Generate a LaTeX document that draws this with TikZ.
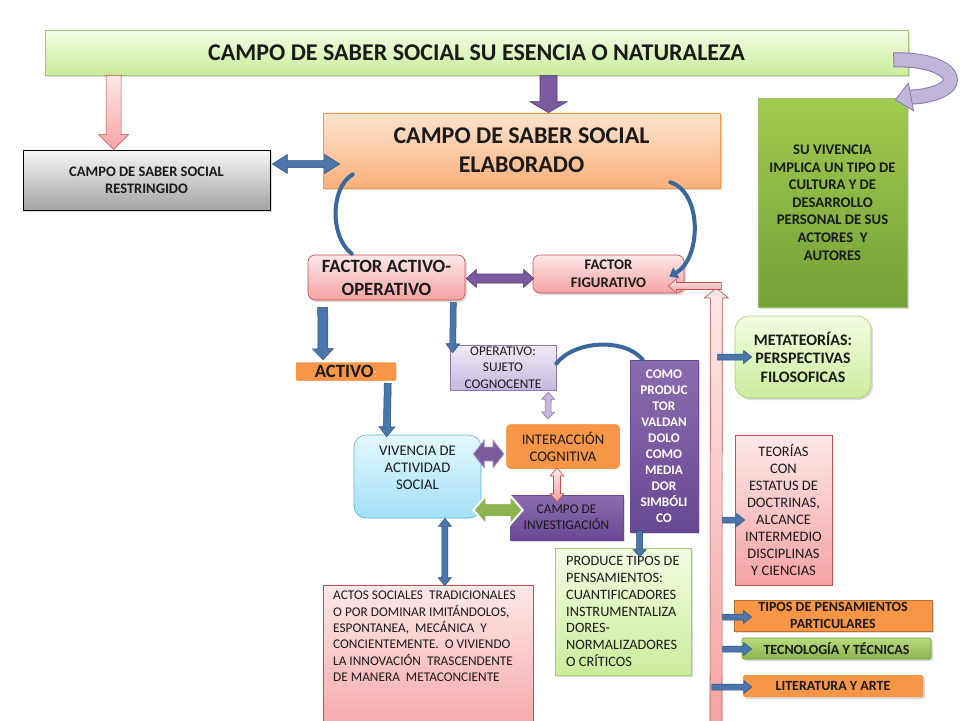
\documentclass[tikz,border=0pt]{standalone}
\usepackage{fontspec}
\setmainfont{Carlito}
\usetikzlibrary{calc,arrows.meta,shadows}
\definecolor{ttop}{HTML}{F4FDE6}
\definecolor{tbot}{HTML}{C9EC9A}
\definecolor{tline}{HTML}{A6C47A}
\definecolor{pktop}{HTML}{FDE8E8}
\definecolor{pkbot}{HTML}{F5A3A3}
\definecolor{pkline}{HTML}{C0504D}
\definecolor{ortop}{HTML}{FDE4CF}
\definecolor{orbot}{HTML}{FAB07A}
\definecolor{orline}{HTML}{F79646}
\definecolor{gytop}{HTML}{F7F7F7}
\definecolor{gybot}{HTML}{A3A3A3}
\definecolor{gntop}{HTML}{A0CC50}
\definecolor{gnbot}{HTML}{74A038}
\definecolor{orsolid}{HTML}{F79646}
\definecolor{purtop}{HTML}{8C6CB0}
\definecolor{purbot}{HTML}{694893}
\definecolor{lavtop}{HTML}{F0EBF7}
\definecolor{lavbot}{HTML}{C6B7DF}
\definecolor{lavline}{HTML}{8C7AAA}
\definecolor{bltop}{HTML}{E4F8FE}
\definecolor{blbot}{HTML}{A2E0F7}
\definecolor{blline}{HTML}{5BB5D5}
\definecolor{lgtop}{HTML}{F3FCE2}
\definecolor{lgbot}{HTML}{CBEC9C}
\definecolor{lgline}{HTML}{A9C97A}
\definecolor{tctop}{HTML}{B8DB7E}
\definecolor{tcbot}{HTML}{8AB44C}
\definecolor{arrblue}{HTML}{4A76AC}
\definecolor{arrbluedk}{HTML}{30527E}
\definecolor{curveblue}{HTML}{3A689E}
\definecolor{arrpur}{HTML}{7B5A9E}
\definecolor{arrpurdk}{HTML}{5A3D7A}
\definecolor{arrgreen}{HTML}{8DB54F}
\definecolor{lavarr}{HTML}{C2B5DA}
\definecolor{lavarrdk}{HTML}{8A78B0}
\definecolor{txt}{HTML}{1A1A1A}
\newcommand\myfs[2]{\fontsize{#1}{#2}\selectfont}
% single block arrow: style, start, end, half shaft, half head, head length
\newcommand\blkarr[6]{%
  \path #2 coordinate (ba) #3 coordinate (bb);
  \path ($(bb)!#6!(ba)$) coordinate (bh);
  \draw[#1] ($(ba)!#4!90:(bb)$) -- ($(bh)!#4!90:(bb)$) -- ($(bh)!#5!90:(bb)$) -- (bb)
    -- ($(bh)!#5!-90:(bb)$) -- ($(bh)!#4!-90:(bb)$) -- ($(ba)!#4!-90:(bb)$) -- cycle;
}
% double block arrow
\newcommand\blkdarr[6]{%
  \path #2 coordinate (ba) #3 coordinate (bb);
  \path ($(bb)!#6!(ba)$) coordinate (bh) ($(ba)!#6!(bb)$) coordinate (bt);
  \draw[#1] ($(bt)!#4!90:(bb)$) -- ($(bh)!#4!90:(bb)$) -- ($(bh)!#5!90:(bb)$) -- (bb)
    -- ($(bh)!#5!-90:(bb)$) -- ($(bh)!#4!-90:(bb)$) -- ($(bt)!#4!-90:(bb)$)
    -- ($(bt)!#5!-90:(bb)$) -- (ba) -- ($(bt)!#5!90:(bb)$) -- cycle;
}
\begin{document}
\begin{tikzpicture}[x=1pt,y=-1pt,
  box/.style={rectangle, inner sep=0pt, align=center, text=txt},
  shad/.style={drop shadow={opacity=0.28,shadow xshift=2pt,shadow yshift=-2pt}},
  pinkbox/.style={box, top color=pktop, bottom color=pkbot, draw=pkline, line width=0.6pt},
  lgbox/.style={box, top color=lgtop, bottom color=lgbot, draw=lgline, line width=0.6pt},
  purbox/.style={box, top color=purtop, bottom color=purbot, draw=purbot, line width=0.6pt},
  bluearr/.style={fill=arrblue, draw=arrbluedk, line width=0.5pt},
  purarr/.style={fill=arrpur, draw=arrpurdk, line width=0.6pt},
  pinkarr/.style={top color=pktop, bottom color=pkbot, draw=pkline, line width=0.6pt},
  curvearr/.style={draw=curveblue, line width=4pt, line cap=round}]
\useasboundingbox (0,0) rectangle (960,720);
\clip (0,0) rectangle (960,720);
\fill[white] (0,0) rectangle (960,720);

% ---------- nodes ----------
\node[box, shad, top color=ttop, bottom color=tbot, draw=tline, line width=0.6pt,
  minimum width=863pt, minimum height=45pt, font=\bfseries\myfs{24}{28}] (title) at (476.5,52.5)
  {CAMPO DE SABER SOCIAL SU ESENCIA O NATURALEZA};

\node[box, shad, top color=gytop, bottom color=gybot, draw=black, line width=0.8pt,
  minimum width=247pt, minimum height=60pt, font=\bfseries\myfs{14.5}{17}] (rest) at (146.5,180)
  {CAMPO DE SABER SOCIAL\\RESTRINGIDO};

\node[box, shad, top color=ortop, bottom color=orbot, draw=orline, line width=0.6pt,
  minimum width=397pt, minimum height=75pt, font=\bfseries\myfs{24}{29}] (elab) at (521.5,150.5)
  {CAMPO DE SABER SOCIAL\\ELABORADO};

\node[pinkbox, shad, rounded corners=7pt, minimum width=157pt, minimum height=45pt,
  font=\bfseries\myfs{18.7}{23}] (fao) at (386.5,277.5) {FACTOR ACTIVO-\\OPERATIVO};

\node[pinkbox, shad, rounded corners=7pt, minimum width=151pt, minimum height=38pt,
  font=\bfseries\myfs{14.7}{18}] (fig) at (608.5,274) {FACTOR\\FIGURATIVO};

\node[box, shad, top color=gntop, bottom color=gnbot, draw=gnbot!70!white, line width=0.6pt,
  minimum width=149pt, minimum height=209pt, font=\bfseries\myfs{14.7}{17.6}] (suviv) at (832.5,202.5)
  {SU VIVENCIA\\IMPLICA UN TIPO DE\\CULTURA Y DE\\DESARROLLO\\PERSONAL DE SUS\\ACTORES\ \ Y\\AUTORES};

\node[box, fill=orsolid, draw=white, line width=1.5pt, rounded corners=2pt,
  minimum width=102pt, minimum height=20pt] (activo) at (346,371.5)
  {\bfseries\myfs{18.7}{20}ACTIVO{\color{orsolid!45!white}\myfs{13}{13}:}};

\node[box, top color=lavtop, bottom color=lavbot, draw=lavline, line width=0.6pt,
  minimum width=106pt, minimum height=45pt, font=\myfs{13.3}{16.5}] (oper) at (503,367.5)
  {OPERATIVO:\\SUJETO\\COGNOCENTE};

\node[box, fill=orsolid, draw=white, line width=2pt, rounded corners=6pt,
  minimum width=116pt, minimum height=47pt, font=\myfs{14.7}{17}] (inter) at (563,446.5)
  {INTERACCIÓN\\COGNITIVA};

\node[box, top color=bltop, bottom color=blbot, draw=blline, line width=0.6pt, rounded corners=12pt,
  minimum width=127pt, minimum height=83pt] (vivact) at (417.5,476.5) {};
\node[box, font=\myfs{14.7}{17}] (vivtxt) at (417.5,468) {VIVENCIA DE\\ACTIVIDAD\\SOCIAL};

\node[purbox, shad, minimum width=113pt, minimum height=45pt, font=\myfs{13.3}{16}] (campinv) at (566.5,517.5)
  {CAMPO DE\\INVESTIGACIÓN};

\node[purbox, shad, minimum width=68pt, minimum height=172pt, text=white,
  font=\bfseries\myfs{13.2}{16}] (como) at (664,446)
  {COMO\\PRODUC\\TOR\\VALDAN\\DOLO\\COMO\\MEDIA\\DOR\\SIMBÓLI\\CO};

\node[lgbox, shad, minimum width=136pt, minimum height=127pt] (produce) at (623,611.5) {};
\node[box, anchor=west, align=left, font=\myfs{14.3}{16.8}] (prtxt) at (566,611.5)
  {PRODUCE TIPOS DE\\PENSAMIENTOS:\\CUANTIFICADORES\\INSTRUMENTALIZA\\DORES-\\NORMALIZADORES\\O CRÍTICOS};

\node[pinkbox, minimum width=210pt, minimum height=155pt] (actos) at (428,662.5) {};
\node[box, anchor=north west, align=left, font=\myfs{13.3}{16.3}] (actxt) at (333,591)
  {ACTOS SOCIALES\ \ TRADICIONALES\\O POR DOMINAR IMITÁNDOLOS,\\ESPONTANEA,\ \ MECÁNICA\ \ Y\\CONCIENTEMENTE.\ \ O VIVIENDO\\LA INNOVACIÓN\ \ TRASCENDENTE\\DE MANERA\ \ METACONCIENTE};

\node[lgbox, shad, rounded corners=14pt, minimum width=136pt, minimum height=82pt,
  font=\bfseries\myfs{16}{18.5}] (meta) at (803,357) {METATEORÍAS:\\PERSPECTIVAS\\FILOSOFICAS};

\node[pinkbox, minimum width=97pt, minimum height=150pt, font=\myfs{14.5}{16.9}] (teorias) at (783.5,510)
  {TEORÍAS\\CON\\ESTATUS DE\\DOCTRINAS,\\ALCANCE\\INTERMEDIO\\DISCIPLINAS\\Y CIENCIAS};

\node[box, shad, fill=orsolid, draw=orsolid!75!black, line width=0.8pt, minimum width=198pt, minimum height=31pt,
  font=\bfseries\myfs{14}{17}] (tipos) at (833,615.5) {TIPOS DE PENSAMIENTOS\\PARTICULARES};

\node[box, shad, top color=tctop, bottom color=tcbot, draw=tcbot!85!black, line width=0.6pt, rounded corners=2pt,
  minimum width=189pt, minimum height=21pt, font=\bfseries\myfs{14}{17}] (tecno) at (836.5,648.5)
  {TECNOLOGÍA Y TÉCNICAS};

\node[box, shad, fill=orsolid, rounded corners=2pt, minimum width=180pt, minimum height=22pt,
  font=\bfseries\myfs{14}{17}] (lit) at (833,686) {LITERATURA Y ARTE};

% ---------- connectors ----------
% title -> restringido (pink), title -> elaborado (purple)
\blkarr{pinkarr}{($(title.south west)+(69,0)$)}{($(rest.north west)+(91,0)$)}{7.5pt}{15pt}{15pt}
\blkarr{purarr}{($(title.south)+(72,0)$)}{($(elab.north)+(27,0)$)}{8.5pt}{18.5pt}{11pt}

% restringido <-> elaborado
\blkdarr{bluearr}{($(rest.east)+(2,-16)$)}{($(elab.west)+(17,13.5)$)}{3.5pt}{9.5pt}{15pt}

% curves from elaborado
\draw[curvearr] ($(elab.south west)+(30,-14)$) .. controls (330,188) and (330,237) .. ($(fao.north west)+(44,-1)$);
\draw[curvearr, -{Triangle[length=8pt,width=12pt]}] ($(elab.south east)+(-50,-6)$) .. controls (702,192) and (702,258) .. ($(fig.north east)+(-15,22)$);

% factor activo <-> figurativo
\blkdarr{purarr}{($(fao.east)+(1,1)$)}{($(fig.west)+(1,4.5)$)}{4.5pt}{9pt}{10pt}

% top-right curved lavender arrow
\draw[lavarrdk, line width=15pt] ($(title.east)+(-15,7.5)$) .. controls (945,58) and (968,82) .. (935,93) .. controls (925,96) and (918,97) .. (911,97);
\draw[lavarr, line width=13pt] ($(title.east)+(-14,7.5)$) .. controls (945,58) and (968,82) .. (935,93) .. controls (925,96) and (918,97) .. (910,97);
\filldraw[fill=lavarr, draw=lavarrdk, line width=0.8pt] (908.4,83.2) -- ($(suviv.north east)+(-12,2)$) -- (913.6,110.8) -- cycle;

% factor activo-operativo -> activo / operativo
\blkarr{bluearr}{($(fao.south west)+(15,7)$)}{($(activo.north)+(-23,-1)$)}{5pt}{10.5pt}{11pt}
\blkarr{bluearr}{($(fao.south east)+(-12,2)$)}{($(oper.north west)+(3,8)$)}{3pt}{7pt}{9pt}

% activo -> vivencia
\blkarr{bluearr}{($(activo.south east)+(-10,1)$)}{($(vivact.north west)+(33,2)$)}{3.5pt}{8pt}{10pt}

% operativo -> como (curve)
\draw[curvearr] ($(oper.east)+(0,-4)$) .. controls (575,340) and (625,338) .. ($(como.north west)+(13,0)$);

% operativo <-> interaccion
\blkdarr{fill=lavbot, draw=lavline, line width=0.6pt}{($(oper.south east)+(-8,2)$)}{($(inter.north)+(-15,-3)$)}{3pt}{6.5pt}{7pt}

% vivencia <-> interaccion
\blkdarr{fill=arrpur, draw=arrpur!60!white, line width=0.8pt}{($(vivact.east)+(-8,-22.5)$)}{($(inter.west)+(0,7.5)$)}{7pt}{14pt}{11pt}

% interaccion <-> campo de investigacion
\blkdarr{pinkarr}{($(inter.south)+(-6,-3)$)}{($(campinv.north)+(-9.5,7)$)}{3.5pt}{7pt}{8pt}

% vivencia <-> campo de investigacion
\blkdarr{fill=arrgreen, draw=white, line width=2pt}{($(vivact.east)+(-8,33.5)$)}{($(campinv.west)+(13,-7.5)$)}{7pt}{15pt}{13pt}

% vivencia <-> actos
\blkdarr{bluearr}{($(vivact.south)+(27.5,0)$)}{($(actos.north west)+(122,1)$)}{3pt}{6.5pt}{8pt}

% como -> produce
\blkarr{bluearr}{($(como.south west)+(10,-2)$)}{($(produce.north west)+(85,9)$)}{3pt}{6.5pt}{7pt}

% pink bent arrow up to figurativo
\coordinate (pinkbot) at (716,730);
\blkarr{pinkarr}{(pinkbot)}{($(fig.east)+(32,14)$)}{6pt}{12pt}{10pt}
\blkarr{pinkarr}{($(fig.east)+(37,12)$)}{($(fig.east)+(-16,12)$)}{3.5pt}{7pt}{8pt}

% small arrows from pink bar
\blkarr{bluearr}{($(meta.west)+(-17,0)$)}{($(meta.west)+(17,0)$)}{3pt}{6.5pt}{8pt}
\blkarr{bluearr}{($(teorias.west)+(-12,10)$)}{($(teorias.west)+(10,10)$)}{3pt}{6.5pt}{8pt}
\blkarr{bluearr}{($(tipos.west)+(-11,1.5)$)}{($(tipos.west)+(18,1.5)$)}{3pt}{6.5pt}{8pt}
\blkarr{bluearr}{($(tecno.west)+(-19,0.5)$)}{($(tecno.west)+(10,0.5)$)}{3pt}{6.5pt}{8pt}
\blkarr{bluearr}{($(lit.west)+(-31,1)$)}{($(lit.west)+(9,1)$)}{3pt}{6.5pt}{8pt}
\end{tikzpicture}
\end{document}
